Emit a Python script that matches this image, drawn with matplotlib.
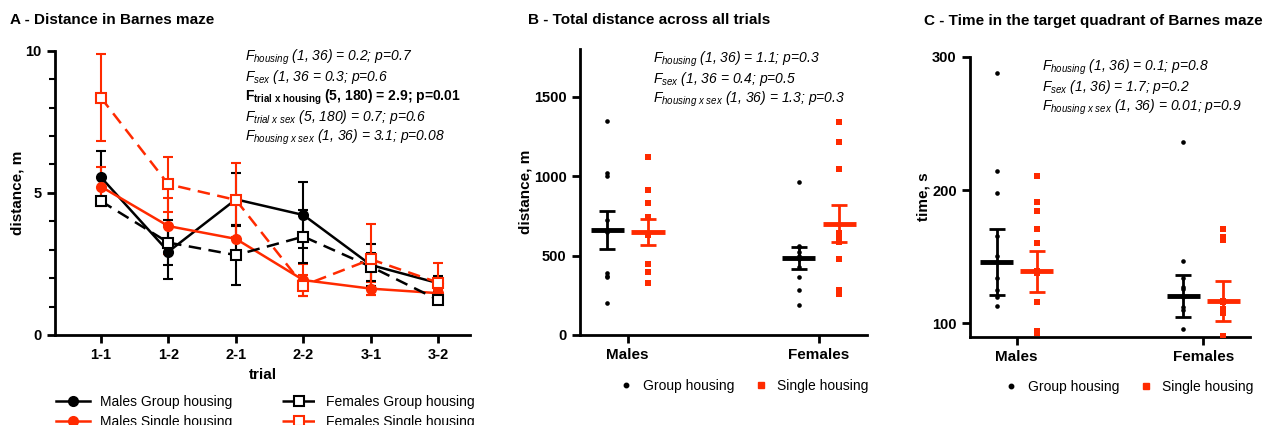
import numpy as np
import matplotlib
matplotlib.use("Agg")
import matplotlib.pyplot as plt
from matplotlib.lines import Line2D

plt.rcParams['font.family'] = ['Liberation Sans', 'DejaVu Sans']
plt.rcParams['mathtext.fontset'] = 'custom'
plt.rcParams['mathtext.rm'] = 'Liberation Sans'
plt.rcParams['mathtext.it'] = 'Liberation Sans:italic'
plt.rcParams['mathtext.bf'] = 'Liberation Sans:bold'

RED = '#ff2a00'

# ---- panel A data ----
trials = ['1-1', '1-2', '2-1', '2-2', '3-1', '3-2']
males_group = [5.55, 2.93, 4.77, 4.22, 2.46, 1.82]
males_group_err = [0.92, 0.95, 0.92, 1.17, 0.74, 0.26]
males_single = [5.22, 3.83, 3.38, 1.93, 1.63, 1.47]
males_single_err = [0.68, 0.98, 0.50, 0.55, 0.22, 0.10]
females_group = [4.71, 3.25, 2.81, 3.46, 2.40, 1.23]
females_group_err = [0.15, 0.80, 1.05, 0.92, 0.50, 0.12]
females_single = [8.35, 5.30, 4.75, 1.74, 2.66, 1.84]
females_single_err = [1.52, 0.97, 1.29, 0.36, 1.25, 0.70]

# ---- panel B data ----
sexes = ['Males', 'Females']
dist_group = [
    [1349, 1020, 999, 724, 660, 650, 388, 367, 373, 199],
    [965, 556, 562, 525, 499, 482, 430, 367, 283, 189],
]
dist_single = [
    [1124, 911, 829, 745, 629, 629, 445, 445, 394, 325],
    [1345, 1217, 1049, 640, 608, 608, 587, 482, 283, 258],
]
dist_group_mean = [661, 487]
dist_group_sem = [118, 68]
dist_single_mean = [650, 701]
dist_single_sem = [82, 118]

# ---- panel C data ----
time_group = [
    [288, 214, 197.5, 165.5, 150.5, 146, 134, 125, 119.5, 113],
    [236, 147, 134, 127, 126, 120.5, 120, 112, 110, 96],
]
time_single = [
    [210.5, 191, 184, 170.5, 160, 139, 138, 116, 93, 94.5],
    [170.5, 170.5, 164.5, 162.5, 117, 116, 111, 107.5, 108, 90.5],
]
time_group_mean = [146, 120.5]
time_group_sem = [24.5, 16]
time_single_mean = [139, 117]
time_single_sem = [15.5, 15]

fig = plt.figure(figsize=(12.66, 4.25), dpi=100)


def style_axes(ax):
    for s in ['top', 'right']:
        ax.spines[s].set_visible(False)
    for s in ['left', 'bottom']:
        ax.spines[s].set_linewidth(2)
    ax.tick_params(width=2, length=6, labelsize=10.5)
    for lab in ax.get_xticklabels() + ax.get_yticklabels():
        lab.set_fontweight('bold')


# ---------------- A ----------------
axA = fig.add_axes([0.0434, 0.2118, 0.328, 0.669])
x = np.arange(len(trials))
series = [
    (males_group, males_group_err, 'black', '-', 'o', 'black', 'Males Group housing'),
    (males_single, males_single_err, RED, '-', 'o', RED, 'Males Single housing'),
    (females_group, females_group_err, 'black', (0, (5, 3)), 's', 'white', 'Females Group housing'),
    (females_single, females_single_err, RED, (0, (5, 3)), 's', 'white', 'Females Single housing'),
]
handles = []
for vals, err, col, ls, mk, mfc, lab in series:
    axA.errorbar(x, vals, yerr=err, color=col, ecolor=col, linestyle=ls, linewidth=1.8,
                 marker=mk, markersize=7.5 if mk == 's' else 6.5, markerfacecolor=mfc,
                 markeredgecolor=col, markeredgewidth=1.5, capsize=3.8, capthick=1.5,
                 elinewidth=1.5, zorder=3)
    handles.append(Line2D([], [], color=col, linestyle=ls, linewidth=1.8, marker=mk,
                          markersize=6.5, markerfacecolor=mfc, markeredgecolor=col,
                          markeredgewidth=1.5, label=lab))
axA.set_xlim(-0.68, 5.47)
axA.set_ylim(0, 10)
axA.set_yticks([0, 5, 10])
axA.set_yticks(np.arange(0, 11, 1), minor=True)
axA.tick_params(axis='y', which='minor', width=1.5, length=4)
axA.set_xticks(x)
axA.set_xticklabels(trials)
axA.set_xlabel('trial', fontsize=11, fontweight='bold')
axA.set_ylabel('distance, m', fontsize=11, fontweight='bold', labelpad=1)
style_axes(axA)
axA.legend(handles=handles, ncol=2, loc='upper left', bbox_to_anchor=(-0.01, -0.19),
           frameon=False, fontsize=10, handlelength=2.45, handletextpad=0.7,
           columnspacing=3.6, labelspacing=0.45, borderaxespad=0)
fig.text(0.008, 0.952, 'A - Distance in Barnes maze', fontsize=11, fontweight='bold',
         va='center')

linesA = [
    (r'$F_{housing}$ (1, 36) = 0.2; p=0.7', 'normal'),
    (r'$F_{sex}$ (1, 36 = 0.3; p=0.6', 'normal'),
    (r'$\mathbf{F_{trial\ x\ housing}}$ (5, 180) = 2.9; p=0.01', 'bold'),
    (r'$F_{trial\ x\ sex}$ (5, 180) = 0.7; p=0.6', 'normal'),
    (r'$F_{housing\ x\ sex}$ (1, 36) = 3.1; p=0.08', 'normal'),
]
for i, (t, w) in enumerate(linesA):
    fig.text(245 / 1266, 1 - (57 + 20 * i) / 425, t, fontsize=10, va='center',
             style='italic' if w == 'normal' else 'normal', fontweight=w)


# ---------------- B & C ----------------
def dot_panel(rect, group, single, gmean, gsem, smean, ssem, ylim, yticks, ylabel, legx):
    ax = fig.add_axes(rect)
    off = 0.107
    for i in range(len(sexes)):
        xg = np.full(len(group[i]), i - off)
        xs = np.full(len(single[i]), i + off)
        ax.scatter(xg, group[i], s=11, color='black', marker='o', zorder=3, linewidths=0)
        ax.scatter(xs, single[i], s=14, color=RED, marker='s', zorder=3, linewidths=0)
        ax.errorbar([i - off], [gmean[i]], yerr=[gsem[i]], color='black', capsize=5.5,
                    capthick=2, elinewidth=2, zorder=4)
        ax.errorbar([i + off], [smean[i]], yerr=[ssem[i]], color=RED, capsize=5.5,
                    capthick=2, elinewidth=2, zorder=4)
        ax.plot([i - off - 0.087, i - off + 0.087], [gmean[i]] * 2, color='black', lw=3.5,
                zorder=4, solid_capstyle='butt')
        ax.plot([i + off - 0.087, i + off + 0.087], [smean[i]] * 2, color=RED, lw=3.5,
                zorder=4, solid_capstyle='butt')
    ax.set_xlim(-0.25, 1.25)
    ax.set_ylim(*ylim)
    ax.set_yticks(yticks)
    ax.set_xticks(range(len(sexes)))
    ax.set_xticklabels(sexes)
    ax.set_ylabel(ylabel, fontsize=11, fontweight='bold', labelpad=1)
    style_axes(ax)
    for lab in ax.get_xticklabels():
        lab.set_fontsize(11)
    hs = [Line2D([], [], color='black', marker='o', linestyle='none', markersize=3.2,
                 label='Group housing'),
          Line2D([], [], color=RED, marker='s', linestyle='none', markersize=4.5,
                 label='Single housing')]
    ax.legend(handles=hs, ncol=2, loc='upper center', bbox_to_anchor=(legx, -0.135),
              frameon=False, fontsize=10, handlelength=1.2, handletextpad=0.6,
              columnspacing=1.3, borderaxespad=0)
    return ax


axB = dot_panel([0.458, 0.2118, 0.2267, 0.672], dist_group, dist_single,
                dist_group_mean, dist_group_sem, dist_single_mean, dist_single_sem,
                (0, 1800), [0, 500, 1000, 1500], 'distance, m', 0.57)
fig.text(528 / 1266, 0.952, 'B - Total distance across all trials', fontsize=11,
         fontweight='bold', va='center')
linesB = [r'$F_{housing}$ (1, 36) = 1.1; p=0.3',
          r'$F_{sex}$ (1, 36 = 0.4; p=0.5',
          r'$F_{housing\ x\ sex}$ (1, 36) = 1.3; p=0.3']
for i, t in enumerate(linesB):
    fig.text(653 / 1266, 1 - (59 + 20 * i) / 425, t, fontsize=10, va='center',
             style='italic')

axC = dot_panel([0.7662, 0.2078, 0.2212, 0.6588], time_group, time_single,
                time_group_mean, time_group_sem, time_single_mean, time_single_sem,
                (90, 300), [100, 200, 300], 'time, s', 0.565)
fig.text(924 / 1266, 0.95, 'C - Time in the target quadrant of Barnes maze', fontsize=11,
         fontweight='bold', va='center')
linesC = [r'$F_{housing}$ (1, 36) = 0.1; p=0.8',
          r'$F_{sex}$ (1, 36) = 1.7; p=0.2',
          r'$F_{housing\ x\ sex}$ (1, 36) = 0.01; p=0.9']
for i, t in enumerate(linesC):
    fig.text(1042 / 1266, 1 - (67 + 20 * i) / 425, t, fontsize=10, va='center',
             style='italic')

fig.savefig('out.png', dpi=100)
